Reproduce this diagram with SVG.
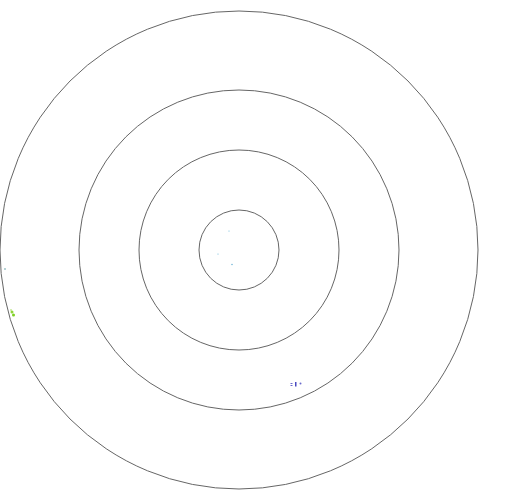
<svg xmlns="http://www.w3.org/2000/svg" width="515" height="496" viewBox="0 0 515 496">
<style>
.ring{fill:none;stroke:#666;stroke-width:1}
</style>
<rect width="515" height="496" fill="#fff"/>
<g id="rings">
<circle class="ring" cx="239" cy="250" r="239"/>
<circle class="ring" cx="239" cy="250" r="160"/>
<circle class="ring" cx="239" cy="250" r="100"/>
<circle class="ring" cx="239" cy="250" r="40"/>
</g>
<g id="marks">
<circle cx="5" cy="269" r="0.8" fill="#5a9aa0"/>
<circle cx="12" cy="312" r="1.5" fill="#8fd43a"/>
<circle cx="13.5" cy="315" r="1.5" fill="#7cd020"/>
<circle cx="11" cy="310" r="0.8" fill="#9bd850"/>
<rect x="290.5" y="383" width="2" height="1" fill="#6a6acc"/>
<rect x="290.5" y="385" width="2" height="1" fill="#6a6acc"/>
<rect x="295" y="382" width="1.5" height="4.5" fill="#4a4ac0"/>
<circle cx="300.5" cy="383.5" r="1" fill="#6a6acc"/>
<circle cx="229" cy="231" r="0.6" fill="#6ab8d8"/>
<circle cx="218" cy="254" r="0.6" fill="#6ab8d8"/>
<circle cx="232" cy="264.5" r="0.7" fill="#5aa8d0"/>
</g>
</svg>
